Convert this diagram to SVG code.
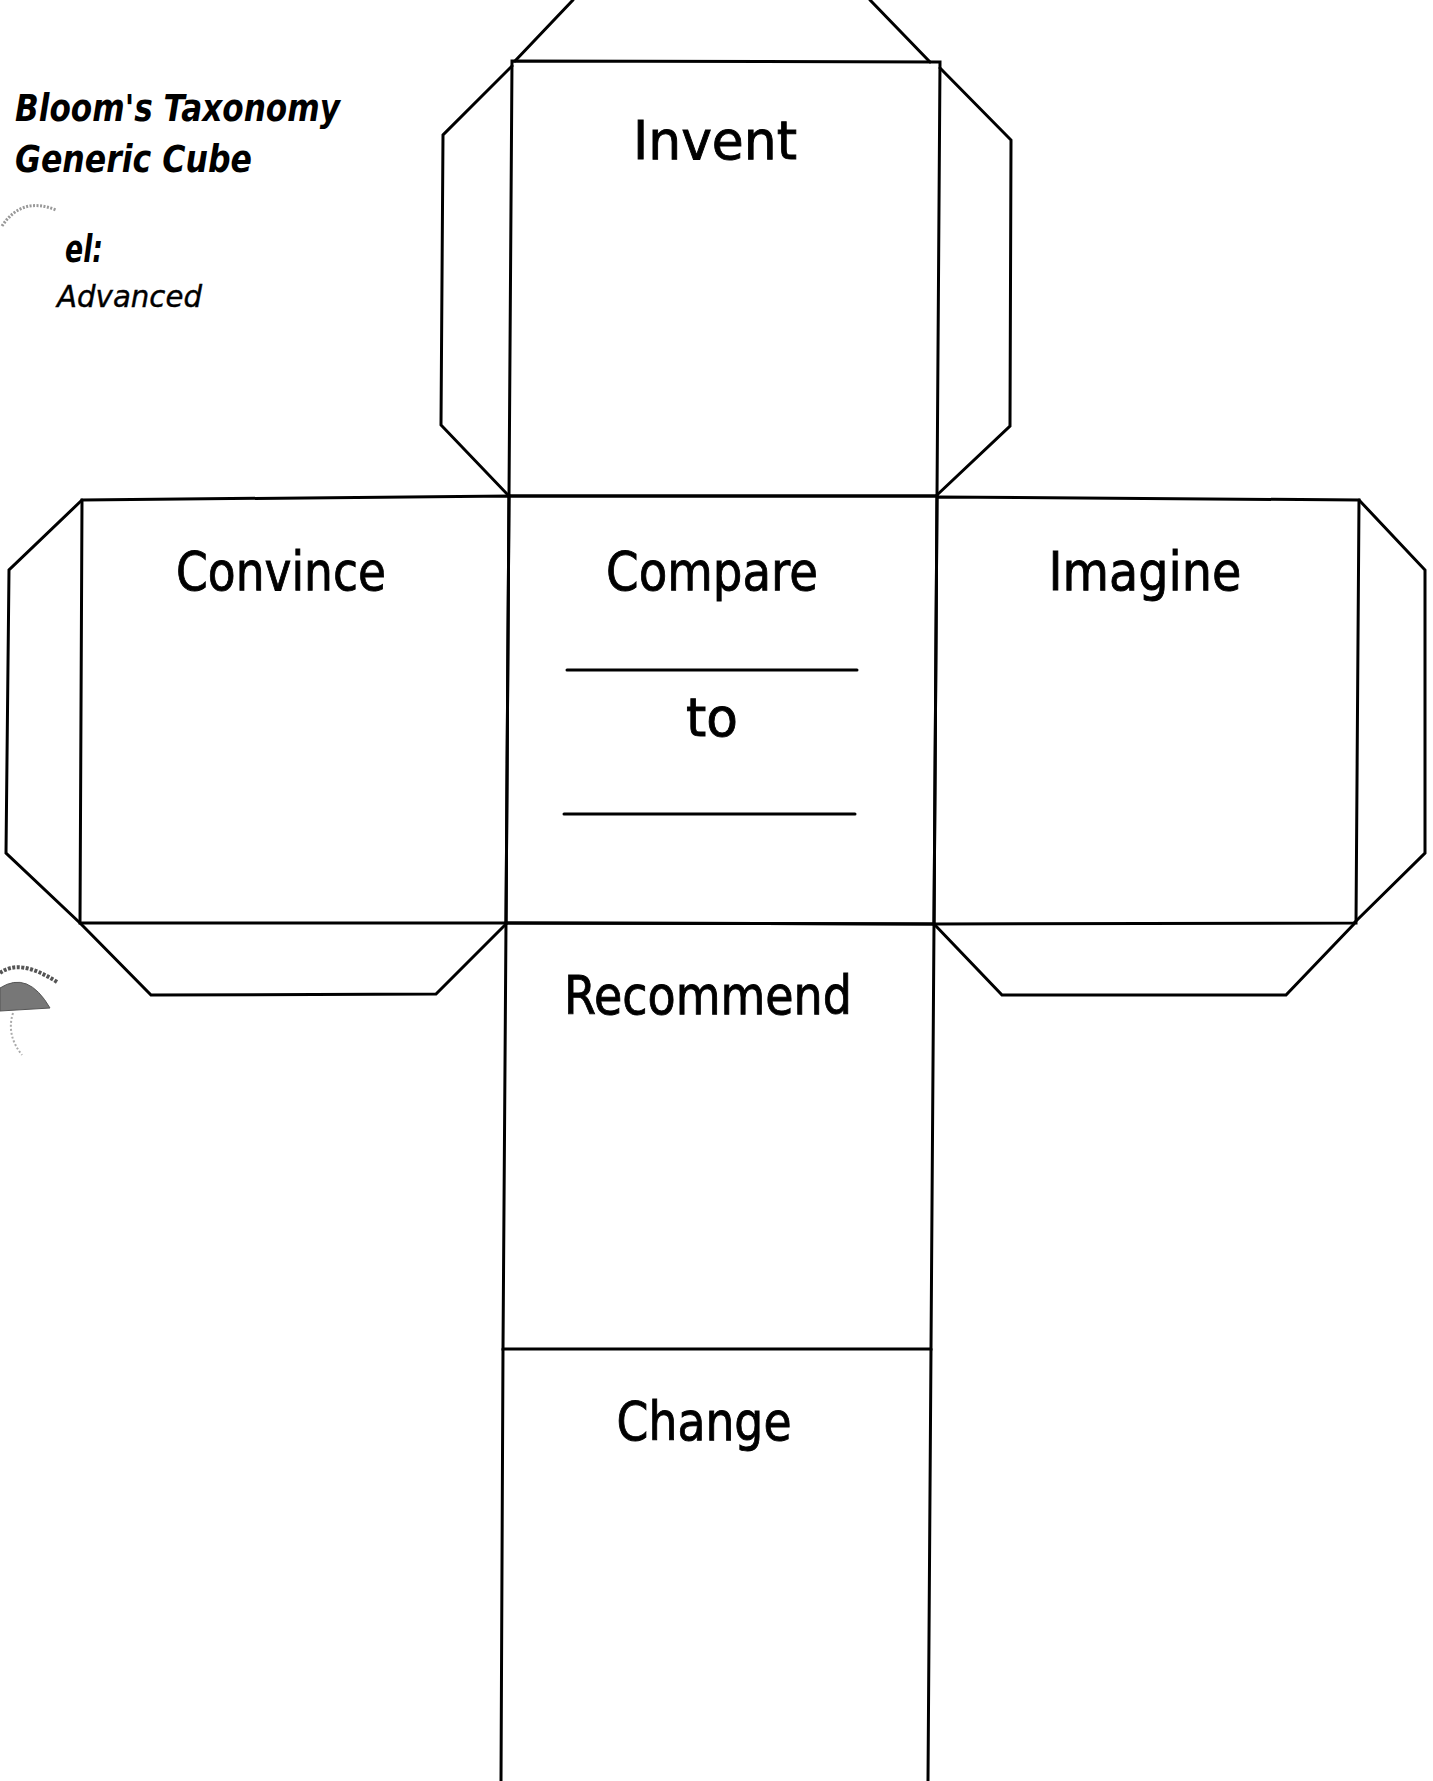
<svg xmlns="http://www.w3.org/2000/svg" width="1433" height="1781" viewBox="0 0 1433 1781">
<style>
  .edge { fill: none; stroke: #000; stroke-width: 3; stroke-linejoin: miter; stroke-linecap: round; }
  .label { font-family: "DejaVu Sans", "Noto Sans", sans-serif; font-size: 54px; fill: #000; stroke: #000; stroke-width: 0.9; text-anchor: middle; }
  .title { font-family: "DejaVu Sans", "Liberation Sans", sans-serif; font-style: italic; font-weight: bold; font-size: 37px; fill: #000; }
  .sub { font-family: "DejaVu Sans", "Liberation Sans", sans-serif; font-style: italic; font-size: 31px; fill: #000; stroke: #000; stroke-width: 0.4; }
</style>
<rect x="0" y="0" width="1433" height="1781" fill="#fff"/>

<g id="title">
  <text class="title" x="15" y="121" textLength="325" lengthAdjust="spacingAndGlyphs">Bloom's Taxonomy</text>
  <text class="title" x="15" y="172" textLength="237" lengthAdjust="spacingAndGlyphs">Generic Cube</text>
  <text class="title" x="65" y="262" font-size="31" textLength="38" lengthAdjust="spacingAndGlyphs">el:</text>
  <text class="sub" x="57" y="307" textLength="145" lengthAdjust="spacingAndGlyphs">Advanced</text>
</g>

<g id="smudges" fill="none">
  <path d="M2 226 Q22 196 56 210" stroke="#999" stroke-width="3" stroke-dasharray="2 1.5"/>
  <path d="M0 973 Q20 958 57 982" stroke="#555" stroke-width="4" stroke-dasharray="3 1.5"/>
  <path d="M0 1011 L0 988 Q28 970 50 1008 Z" fill="#777" stroke="#555" stroke-width="1"/>
  <path d="M13 1013 Q6 1035 22 1055" stroke="#aaa" stroke-width="2" stroke-dasharray="2 2"/>
</g>

<g id="connectors">
  <line class="edge" x1="573" y1="0" x2="515" y2="61"/>
  <line class="edge" x1="870" y1="0" x2="930" y2="62"/>
</g>

<g id="face-invent">
  <polygon class="edge" points="512,61 940,62 937,496 509,496"/>
  <polyline class="edge" points="512,66 443,135 441,425 509,496"/>
  <polyline class="edge" points="940,68 1011,140 1010,426 937,495"/>
  <text class="label" x="715" y="159" textLength="164" lengthAdjust="spacingAndGlyphs">Invent</text>
</g>

<g id="face-convince">
  <polygon class="edge" points="82,500 509,496 506,923 80,923"/>
  <polyline class="edge" points="82,500 9,570 6,853 80,923"/>
  <polyline class="edge" points="81,924 151,995 436,994 506,924"/>
  <text class="label" x="281" y="590" textLength="210" lengthAdjust="spacingAndGlyphs">Convince</text>
</g>

<g id="face-compare">
  <polygon class="edge" points="509,496 937,496 934,924 506,923"/>
  <line class="edge" x1="567" y1="670" x2="857" y2="670"/>
  <line class="edge" x1="564" y1="814" x2="855" y2="814"/>
  <text class="label" x="712" y="590" textLength="212" lengthAdjust="spacingAndGlyphs">Compare</text>
  <text class="label" x="712" y="736" textLength="52" lengthAdjust="spacingAndGlyphs">to</text>
</g>

<g id="face-imagine">
  <polygon class="edge" points="937,497 1359,500 1356,923 934,924"/>
  <polyline class="edge" points="1359,500 1425,570 1425,853 1354,923"/>
  <polyline class="edge" points="934,924 1002,995 1286,995 1354,924"/>
  <text class="label" x="1145" y="590" textLength="193" lengthAdjust="spacingAndGlyphs">Imagine</text>
</g>

<g id="face-recommend">
  <polygon class="edge" points="506,923 934,924 931,1349 503,1349"/>
  <text class="label" x="708" y="1014" textLength="288" lengthAdjust="spacingAndGlyphs">Recommend</text>
</g>

<g id="face-change">
  <polyline class="edge" points="503,1349 501,1781"/>
  <polyline class="edge" points="931,1349 928,1781"/>
  <text class="label" x="704" y="1440" textLength="175" lengthAdjust="spacingAndGlyphs">Change</text>
</g>
</svg>
